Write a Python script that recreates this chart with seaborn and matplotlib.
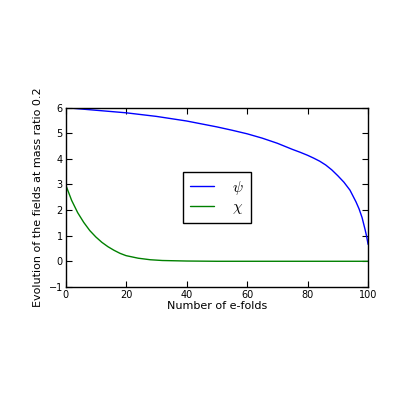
import matplotlib
matplotlib.use("Agg")
import matplotlib.pyplot as plt
import seaborn as sns
import pandas as pd

# values
efolds_psi = [0, 10, 20, 30, 40, 50, 55, 60, 65, 70, 75, 77.5, 80, 82, 84, 86, 88, 90, 92, 94, 96, 97, 98, 99, 99.5, 100]
psi = [6.0, 5.9, 5.8, 5.66, 5.48, 5.25, 5.12, 4.98, 4.81, 4.61, 4.37, 4.26, 4.14, 4.03, 3.91, 3.76, 3.57, 3.34, 3.09, 2.78, 2.32, 2.05, 1.71, 1.24, 0.98, 0.66]

efolds_chi = [0, 2, 4, 6, 8, 10, 12, 14, 16, 18, 20, 24, 28, 32, 40, 50, 100]
chi = [3.0, 2.38, 1.9, 1.52, 1.2, 0.95, 0.74, 0.57, 0.43, 0.31, 0.22, 0.12, 0.06, 0.03, 0.01, 0.0, 0.0]

df_psi = pd.DataFrame({"N": efolds_psi, "field": psi})
df_chi = pd.DataFrame({"N": efolds_chi, "field": chi})

sns.set_style("ticks")
plt.rcParams["font.family"] = ["DejaVu Sans"]
plt.rcParams["mathtext.fontset"] = "cm"
plt.rcParams["xtick.direction"] = "in"
plt.rcParams["ytick.direction"] = "in"
plt.rcParams["text.color"] = "black"
plt.rcParams["axes.labelcolor"] = "black"
plt.rcParams["xtick.color"] = "black"
plt.rcParams["ytick.color"] = "black"

fig = plt.figure(figsize=(4.15, 4.11), dpi=100)
ax = fig.add_axes([0.158, 0.302, 0.729, 0.436])

sns.lineplot(data=df_psi, x="N", y="field", color="b", linewidth=1, label=r"$\psi$", ax=ax)
sns.lineplot(data=df_chi, x="N", y="field", color="g", linewidth=1, label=r"$\chi$", ax=ax)

ax.set_xlim(0, 100)
ax.set_ylim(-1, 6)
ax.set_xticks([0, 20, 40, 60, 80, 100])
ax.set_yticks([-1, 0, 1, 2, 3, 4, 5, 6])
ax.tick_params(top=True, right=True, labelsize=7, length=4, width=0.8, pad=2)
for s in ax.spines.values():
    s.set_color("black")
    s.set_linewidth(1)

ax.set_xlabel("Number of e-folds", fontsize=8, labelpad=1)
ax.set_ylabel("Evolution of the fields at mass ratio 0.2", fontsize=8, labelpad=4)

leg = ax.legend(loc="center", fontsize=11, fancybox=False, framealpha=1,
                edgecolor="black", handlelength=1.6, handletextpad=1.2,
                borderpad=0.45, labelspacing=0.15)
leg.get_frame().set_linewidth(1)

fig.savefig("out.png", dpi=100)
